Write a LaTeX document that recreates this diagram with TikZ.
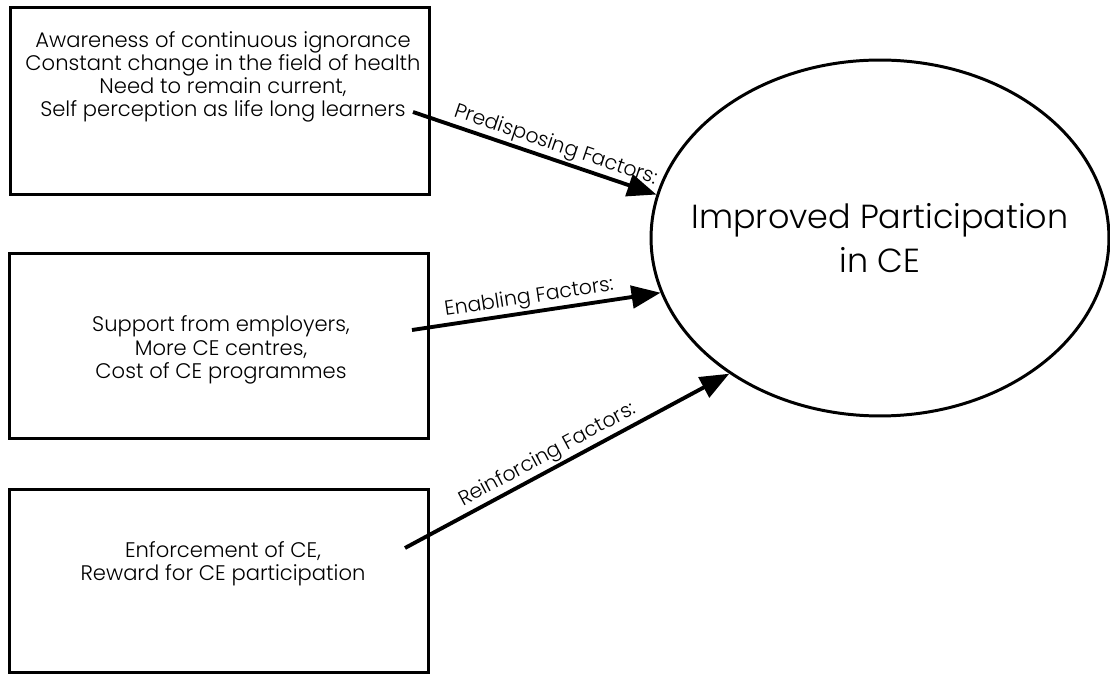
\documentclass[tikz,border=0pt]{standalone}
\usepackage{fontspec}
\setmainfont{Poppins}[UprightFont=* Light]
\usepackage{tikz}
\usetikzlibrary{arrows.meta, positioning, shapes.geometric}

\begin{document}
\begin{tikzpicture}[
        x=0.02cm, y=-0.02cm,
        factorbox/.style={draw, line width=1.7pt, minimum width=8.4cm, minimum height=3.72cm, inner sep=0pt},
        boxtext/.style={align=center, font=\fontsize{12}{13.2}\selectfont},
        outcome/.style={ellipse, draw, line width=1.7pt, minimum width=9.16cm, minimum height=7.12cm, inner sep=0pt},
        outcometext/.style={align=center, font=\fontsize{19}{25.5}\selectfont},
        edge/.style={-{Triangle[length=0.58cm, width=0.45cm]}, line width=2.2pt},
        factor/.style={sloped, above, inner sep=1pt, font=\fontsize{11.6}{13}\selectfont}
    ]
        \useasboundingbox (0,0) rectangle (1110,675);

        % Boxes
        \node[factorbox, minimum height=3.74cm] (pre) at (220,101) {};
        \node[factorbox] (ena) at (219,346) {};
        \node[factorbox, minimum height=3.68cm] (rei) at (219,581) {};

        % Box texts
        \node[boxtext] (pretext) at (223,77) {Awareness of continuous ignorance\\Constant change in the field of health\\Need to remain current,\\Self perception as life long learners};
        \node[boxtext] (enatext) at (221,350) {Support from employers,\\More CE centres,\\Cost of CE programmes};
        \node[boxtext] (reitext) at (223,564) {Enforcement of CE,\\Reward for CE participation};

        % Outcome
        \node[outcome] (ce) at (880,238) {};
        \node[outcometext] (cetext) at (ce.center) {Improved Participation\\in CE};

        % Edges
        \coordinate (prestart) at (413,112);
        \coordinate (enastart) at (412,330);
        \coordinate (reistart) at (405,548);

        \draw[edge] (prestart) -- node[factor, pos=0.57] {Predisposing Factors:} (ce.169.7);
        \draw[edge] (enastart) -- node[factor, pos=0.48] {Enabling Factors:} (ce.194.2);
        \draw[edge] (reistart) -- node[factor, pos=0.46] {Reinforcing Factors:} (ce.222.7);

    \end{tikzpicture}
\end{document}
